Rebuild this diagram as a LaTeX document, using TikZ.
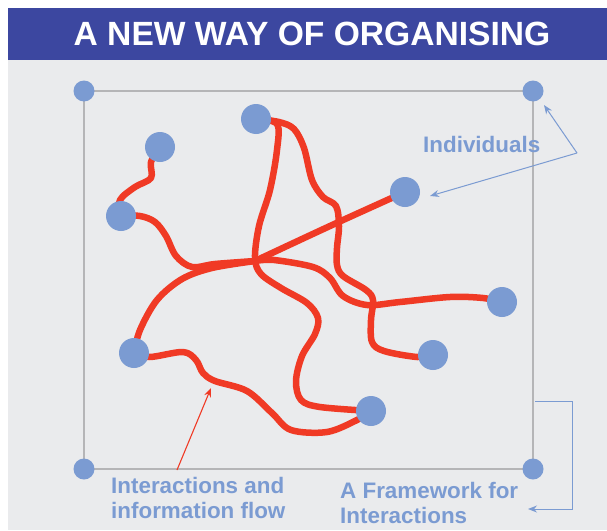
\documentclass[tikz,border=0pt]{standalone}
\usepackage{fontspec}
\setmainfont{Liberation Sans}
\usetikzlibrary{arrows.meta}
\definecolor{band}{HTML}{3C47A0}
\definecolor{paper}{HTML}{EAEBED}
\definecolor{framegray}{HTML}{B5B5B7}
\definecolor{dotblue}{HTML}{7B9BD2}
\definecolor{flowred}{HTML}{F03A25}
\pgfdeclarelayer{back}
\pgfdeclarelayer{lines}
\pgfsetlayers{back,lines,main}
\tikzset{
  corner/.style={circle, fill=dotblue, inner sep=0pt, minimum size=21pt},
  person/.style={circle, fill=dotblue, inner sep=0pt, minimum size=30pt},
  flow/.style={draw=flowred, line width=6.5pt, line cap=round, line join=round},
  framework/.style={draw=framegray, line width=2.4pt},
  note/.style={draw=dotblue, line width=1pt, -{Stealth[length=9pt,width=7pt]}},
  rednote/.style={draw=flowred, line width=1.1pt, -{Stealth[length=9pt,width=7pt]}},
  label/.style={text=dotblue, font=\bfseries\fontsize{22.4}{25}\selectfont, align=left, inner sep=0pt},
}
\begin{document}
\begin{tikzpicture}[x=1pt, y=-1pt]
\useasboundingbox (0,0) rectangle (607,530);
\begin{pgfonlayer}{back}
  \fill[white] (0,0) rectangle (607,530);
  \fill[paper] (8,60) rectangle (607,530);
  \fill[band] (8,8) rectangle (607,60);
\end{pgfonlayer}
\node[text=white, font=\bfseries\fontsize{33.6}{38}\selectfont, inner sep=0pt] (title) at (312,34) {A NEW WAY OF ORGANISING};

% corners of the framework
\node[corner] (nw) at (84,91) {};
\node[corner] (ne) at (533,91) {};
\node[corner] (se) at (533,469) {};
\node[corner] (sw) at (84,469) {};
\begin{pgfonlayer}{back}
  \draw[framework] (nw.center) -- (ne.center) -- (se.center) -- (sw.center) -- cycle;
\end{pgfonlayer}

% individuals
\node[person] (p1) at (160,147) {};
\node[person] (p2) at (256,119) {};
\node[person] (p3) at (121,216) {};
\node[person] (p4) at (405,192) {};
\node[person] (p5) at (502,302) {};
\node[person] (p6) at (134,353) {};
\node[person] (p7) at (433,355) {};
\node[person] (p8) at (371,411) {};
\coordinate (hub) at (255,261);

% interactions
\begin{pgfonlayer}{lines}
  \draw[flow] plot[smooth, tension=0.55] coordinates {(p1.center) (151,162) (151,178) (135,187) (120,200) (p3.center)};
  \draw[flow] plot[smooth, tension=0.55] coordinates {(p3.center) (140,216) (155,222) (166,236) (176,256) (192,267) (215,264) (hub)};
  \draw[flow] plot[smooth, tension=0.55] coordinates {(p6.center) (140,330) (157,300) (182,279) (212,268) (hub)};
  \draw[flow] plot[smooth, tension=0.55] coordinates {(hub) (330,226) (p4.center)};
  \draw[flow] plot[smooth, tension=0.55] coordinates {(p2.center) (277,124) (277,150) (270,190) (259,226) (255,258) (261,274) (281,288) (307,303) (318,318) (315,334) (302,356) (296,381) (301,400) (320,407) (p8.center)};
  \draw[flow] plot[smooth, tension=0.55] coordinates {(p2.center) (279,122) (294,129) (304,148) (312,180) (323,197) (336,206) (339,226) (337,248) (337,265) (343,276) (366,290) (373,300) (371,320) (372,342) (384,351) (417,357) (p7.center)};
  \draw[flow] plot[smooth, tension=0.55] coordinates {(hub) (274,260) (313,267) (330,278) (343,296) (367,305) (400,302) (450,297) (483,298) (p5.center)};
  \draw[flow] plot[smooth, tension=0.55] coordinates {(p6.center) (150,357) (183,352) (196,360) (203,373) (215,381) (247,391) (272,413) (291,430) (327,432) (357,420) (p8.center)};
\end{pgfonlayer}

% annotations
\node[label, anchor=base west] (indiv) at (423,152) {Individuals};
\coordinate (fork) at (577,153);
\draw[note] (fork) -- (544,105);
\draw[note] (fork) -- (430,196);

% two-line labels: the base anchor sits on the last line
\node[label, anchor=base west] (flowlbl) at (111,518) {Interactions and\\information flow};
\coordinate (flowfoot) at (177,470);
\coordinate (flowtip) at (211,388);
\draw[rednote] (flowfoot) -- (flowtip);

\node[label, anchor=base west] (framelbl) at (340,523) {A Framework for\\Interactions};
\coordinate (brtop) at (535,401);
\coordinate (brend) at (528,509);
\draw[note] (brtop) -- (572,401) |- (brend);
\end{tikzpicture}
\end{document}
